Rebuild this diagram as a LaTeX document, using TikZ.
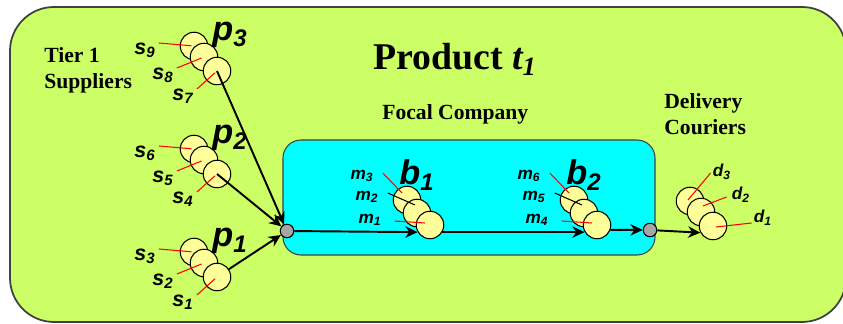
\documentclass[tikz,border=0pt]{standalone}
\usepackage{fontspec}
\setmainfont{Liberation Serif}
\setsansfont{Liberation Sans}
\usetikzlibrary{arrows.meta,positioning,calc}

\definecolor{fieldgreen}{HTML}{CCFF66}
\definecolor{focalcyan}{HTML}{00FFFF}
\definecolor{unitfill}{HTML}{FFFF99}

\tikzset{
  unit/.style={circle, draw=black, line width=0.6pt, fill=unitfill, minimum size=0.55cm, inner sep=0pt},
  joint/.style={circle, draw=black, line width=0.6pt, fill=black!35, minimum size=0.27cm, inner sep=0pt},
  flow/.style={line width=1.1pt, -{Stealth[length=7pt,width=6.5pt]}},
  lead/.style={red, line width=0.6pt},
  tag/.style={font=\sffamily\bfseries\itshape\fontsize{12.2}{14}\selectfont, inner sep=0pt},
  bigtag/.style={font=\sffamily\bfseries\itshape\fontsize{19.5}{22}\selectfont, inner sep=0pt},
  smalltag/.style={font=\sffamily\bfseries\itshape\fontsize{9.8}{11}\selectfont, inner sep=0pt},
  head/.style={font=\bfseries\fontsize{12.3}{14.7}\selectfont, align=left, inner sep=0pt},
}

\begin{document}
\begin{tikzpicture}[x=0.02cm, y=-0.02cm]
  \useasboundingbox (0,0) rectangle (843,324);

  % field and focal company
  \draw[fill=fieldgreen, draw=black!75, line width=1pt, rounded corners=0.88cm] (10,7) rectangle (846,322);
  \draw[fill=focalcyan, draw=black!75, line width=0.6pt, rounded corners=0.36cm] (283,140) rectangle (655,255);

  \node[head, anchor=west] (tier) at (44,70) {Tier 1\\Suppliers};
  \node[font=\bfseries\fontsize{21.5}{24}\selectfont, anchor=base west, inner sep=0pt] (title) at (373,70) {Product \textit{t\textsubscript{1}}};
  \node[head, anchor=base west] (focal) at (382,120) {Focal Company};
  \node[head, anchor=west] (couriers) at (664,114) {Delivery\\Couriers};

  % tier 1 suppliers
  \foreach \g/\y in {1/252, 2/149, 3/46} {
    \pgfmathtruncatemacro\ka{3*\g}
    \pgfmathtruncatemacro\kb{3*\g-1}
    \pgfmathtruncatemacro\kc{3*\g-2}
    \node[unit] (s\ka) at (194,\y) {};
    \node[unit] (s\kb) at (204,\y+11) {};
    \node[unit] (s\kc) at (217,\y+25) {};
    \node[tag] (lab-s\ka) at (145,\y+4) {s\textsubscript{\ka}};
    \node[tag] (lab-s\kb) at (163,\y+29) {s\textsubscript{\kb}};
    \node[tag] (lab-s\kc) at (183,\y+50) {s\textsubscript{\kc}};
    \foreach \k in {\ka,\kb,\kc}
      \draw[lead, shorten >=1.5pt] ($(lab-s\k.east)+(3,-7)$) -- (s\k.center);
    \node[bigtag] (p\g) at (230,\y-11) {p\textsubscript{\g}};
  }

  % machines of the focal company
  \foreach \g/\x in {1/407, 2/574} {
    \pgfmathtruncatemacro\ka{3*\g}
    \pgfmathtruncatemacro\kb{3*\g-1}
    \pgfmathtruncatemacro\kc{3*\g-2}
    \node[unit] (m\ka) at (\x,200) {};
    \node[unit] (m\kb) at (\x+10,213) {};
    \node[unit] (m\kc) at (\x+23,225) {};
    \node[smalltag] (lab-m\ka) at (\x-45,176) {m\textsubscript{\ka}};
    \node[smalltag] (lab-m\kb) at (\x-40,197) {m\textsubscript{\kb}};
    \node[smalltag] (lab-m\kc) at (\x-37,220) {m\textsubscript{\kc}};
    \draw[lead] ($(lab-m\ka.east)+(9,-3)$) -- ($(m\ka)+(-5,-7)$);
    \draw[line width=0.6pt] ($(lab-m\kb.east)+(9,-4)$) -- ($(m\kb)+(-2,-8)$);
    \draw[lead] ($(lab-m\kc.east)+(13,1)$) -- ($(m\kc)+(-5,-2)$);
    \node[bigtag] (b\g) at (\x+10,175) {b\textsubscript{\g}};
  }

  % delivery couriers
  \foreach \k/\x/\y/\lx/\ly in {3/690/201/722/172, 2/701/212/741/195, 1/713/226/763/218} {
    \node[unit] (d\k) at (\x,\y) {};
    \node[smalltag] (lab-d\k) at (\lx,\ly) {d\textsubscript{\k}};
  }
  \draw[lead] ($(lab-d3.west)+(-2,1)$) -- ($(d3)+(-2,-1)$);
  \draw[lead] ($(lab-d2.west)+(-5,2)$) -- ($(d2)+(2,-6)$);
  \draw[lead] ($(lab-d1.west)+(-2,5)$) -- ($(d1)+(3,1)$);

  % material flow
  \node[joint] (fin) at (287,231) {};
  \node[joint] (fout) at (650,230) {};
  \draw[flow] (s7.center) -- (fin);
  \draw[flow] (s4.center) -- (fin);
  \draw[flow] (s1) -- (fin);
  \draw[flow] (fin) -- (m1.210);
  \draw[flow] (m1.330) -- (m4.210);
  \draw[flow] (m4.340) -- (fout);
  \draw[flow] (fout) -- (d1.208);
\end{tikzpicture}
\end{document}
